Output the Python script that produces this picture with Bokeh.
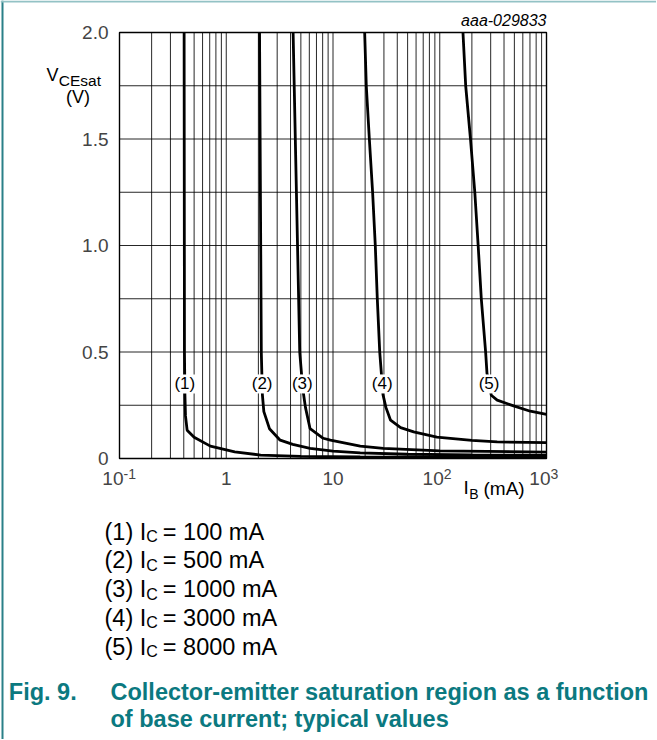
import numpy as np
from bokeh.plotting import figure
from bokeh.models import Label, Range1d
from bokeh.embed import file_html
from bokeh.resources import INLINE

# ---------------- data ----------------
# base current IB (mA) and collector-emitter saturation voltage VCEsat (V)
ib_1 = [0.403, 0.406, 0.41, 0.415, 0.43, 0.50, 0.71, 1.2, 2.1, 5, 18, 100, 1000]
v_1 = [2.0, 0.5, 0.3, 0.2, 0.133, 0.10, 0.058, 0.031, 0.016, 0.010, 0.007, 0.006, 0.005]

ib_2 = [2.05, 2.13, 2.18, 2.25, 2.54, 3.2, 4.2, 6.1, 10, 18, 50, 200, 1000]
v_2 = [2.0, 0.5, 0.3, 0.22, 0.14, 0.086, 0.066, 0.048, 0.035, 0.026, 0.020, 0.017, 0.015]

ib_3 = [4.23, 4.88, 5.2, 5.52, 6.1, 8.1, 9.45, 18, 29.6, 100, 1000]
v_3 = [2.0, 0.5, 0.33, 0.24, 0.14, 0.095, 0.086, 0.058, 0.048, 0.036, 0.030]

ib_4 = [19.8, 20.5, 21.9, 23.5, 24.9, 26.0, 27.4, 29.4, 31.3, 34.6, 43, 57, 94, 200, 345, 1000]
v_4 = [2.0, 1.75, 1.5, 1.25, 1.0, 0.75, 0.5, 0.3, 0.24, 0.18, 0.145, 0.125, 0.10, 0.085, 0.078, 0.075]

ib_5 = [165, 175, 194, 213, 229, 245, 269, 277, 304, 345, 492, 705, 1000]
v_5 = [2.0, 1.75, 1.5, 1.25, 1.0, 0.75, 0.5, 0.4, 0.297, 0.274, 0.247, 0.222, 0.207]

curve_ids = ["(1)", "(2)", "(3)", "(4)", "(5)"]
ic_values = ["100", "500", "1000", "3000", "8000"]
curve_label_v = 0.35

ytick_values = [0, 0.5, 1.0, 1.5, 2.0]
ytick_labels = ["0", "0.5", "1.0", "1.5", "2.0"]
ygrid_values = [0, 0.25, 0.5, 0.75, 1.0, 1.25, 1.5, 1.75, 2.0]
xtick_values = [0.1, 1, 10, 100, 1000]
xtick_bases = ["10", "1", "10", "10", "10"]
xtick_exps = ["-1", "", "", "2", "3"]
xgrid_values = [m * 10.0 ** e for e in range(-1, 3) for m in range(1, 10)] + [1000.0]

doc_id = "aaa-029833"
caption_num = "Fig. 9."
caption_lines = ["Collector-emitter saturation region as a function",
                 "of base current; typical values"]

# ---------------- style / layout ----------------
FONT = "Liberation Sans"
TEAL = "#0b7980"
W, H = 656, 739
X_MIN, X_MAX, Y_MIN, Y_MAX = 0.1, 1000.0, 0.0, 2.0
# chart box position in page pixels
F_L, F_T, F_R, F_B = 119, 32, 546, 458

LX0, LX1 = np.log10(X_MIN), np.log10(X_MAX)
PPD = (F_R - F_L) / (LX1 - LX0)          # pixels per decade
PPV = (F_B - F_T) / (Y_MAX - Y_MIN)      # pixels per volt
x_range = Range1d(10 ** (LX0 - F_L / PPD), 10 ** (LX1 + (W - F_R) / PPD))
y_range = Range1d(Y_MIN - (H - F_B) / PPV, Y_MAX + F_T / PPV)

AW = {"(": .333, ")": .333, " ": .278, "I": .278, "C": .722, "=": .584, "m": .833,
      "A": .667, "V": .667, "0": .556, "1": .556, "2": .556, "3": .556,
      "4": .556, "5": .556, "8": .556}


def tw(s, size):
    return sum(AW.get(c, .556) for c in s) * size


def dx(sx):
    return 10 ** (LX0 + (sx - F_L) / PPD)


def dy(sy):
    return Y_MIN + (F_B - sy) / PPV


p = figure(width=W, height=H, x_axis_type="log", x_range=x_range, y_range=y_range,
           output_backend="svg", toolbar_location=None,
           x_axis_location=None, y_axis_location=None, min_border=0)
p.title.visible = False
p.grid.visible = False
p.outline_line_color = None
p.background_fill_color = "white"
p.border_fill_color = "white"

# grid
p.segment(x0=xgrid_values, y0=[Y_MIN] * len(xgrid_values),
          x1=xgrid_values, y1=[Y_MAX] * len(xgrid_values),
          line_color="black", line_alpha=0.85, line_width=1)
p.segment(x0=[X_MIN] * len(ygrid_values), y0=ygrid_values,
          x1=[X_MAX] * len(ygrid_values), y1=ygrid_values,
          line_color="black", line_alpha=0.85, line_width=1)
# chart box
p.quad(left=[X_MIN], right=[X_MAX], bottom=[Y_MIN], top=[Y_MAX],
       fill_color=None, line_color="black", line_width=1.4)

# page border (document frame)
p.segment(x0=[dx(2)], y0=[dy(0)], x1=[dx(2)], y1=[dy(H)],
          line_color="#2a8088", line_width=2)
p.segment(x0=[dx(0)], y0=[dy(1)], x1=[dx(W)], y1=[dy(1)],
          line_color="#93c2c5", line_width=2)

curves = [(ib_1, v_1), (ib_2, v_2), (ib_3, v_3), (ib_4, v_4), (ib_5, v_5)]
for ib, v in curves:
    p.line(ib, v, line_color="black", line_width=2.8)


def put(text, sx, sy, size, align="left", color="black", style="normal"):
    """Place text with its visual centre line at page pixel row sy."""
    p.add_layout(Label(x=dx(sx), y=dy(sy), text=text, text_font=FONT,
                       text_font_size=f"{size}px", text_color=color,
                       text_align=align, text_baseline="middle",
                       text_font_style=style))


# curve labels, placed where each curve crosses curve_label_v
for (ib, v), cid in zip(curves, curve_ids):
    lv = np.log10(ib)[::-1]
    vv = np.array(v)[::-1]
    xlab = 10 ** np.interp(curve_label_v, vv, lv)
    p.add_layout(Label(x=xlab, y=curve_label_v, text=cid, text_font=FONT,
                       text_font_size="17px", text_align="center",
                       text_baseline="middle", text_color="black",
                       background_fill_color="white",
                       background_fill_alpha=1.0))

# y tick labels
for val, txt in zip(ytick_values, ytick_labels):
    p.add_layout(Label(x=X_MIN, y=val, x_offset=-11, text=txt, text_font=FONT,
                       text_font_size="19px", text_align="right",
                       text_baseline="middle"))

# x tick labels (with superscript exponents)
for val, base, ex in zip(xtick_values, xtick_bases, xtick_exps):
    if ex:
        p.add_layout(Label(x=val, y=Y_MIN, x_offset=4, y_offset=-20, text=base,
                           text_font=FONT, text_font_size="19px",
                           text_align="right", text_baseline="middle"))
        p.add_layout(Label(x=val, y=Y_MIN, x_offset=4, y_offset=-15, text=ex,
                           text_font=FONT, text_font_size="14px",
                           text_align="left", text_baseline="middle"))
    else:
        p.add_layout(Label(x=val, y=Y_MIN, y_offset=-20, text=base,
                           text_font=FONT, text_font_size="19px",
                           text_align="center", text_baseline="middle"))

# axis titles
put("I", 463, 487, 19)
put("B", 463 + tw("I", 19) + 0.5, 493, 14)
put("(mA)", 483, 488, 19)

put("V", 46, 74, 18)
put("CEsat", 46 + tw("V", 18) + 0.3, 80, 15.5)
put("(V)", 77.5, 96, 18, align="center")

put(doc_id, F_R, 20, 16, align="right", style="italic")

# legend
LEG_SIZE, SUB_SIZE = 23.5, 16
for i, (cid, ic) in enumerate(zip(curve_ids, ic_values)):
    cy = 531 + i * 28.8
    x0 = 104
    head = f"{cid} I"
    put(head, x0, cy, LEG_SIZE)
    xc = x0 + tw(head, LEG_SIZE)
    put("C", xc, cy + 5, SUB_SIZE)
    put(f"= {ic} mA", xc + tw("C", SUB_SIZE) + 5, cy, LEG_SIZE)

# caption
put(caption_num, 8.3, 691, 23.5, color=TEAL, style="bold")
put(caption_lines[0], 110, 691, 23.5, color=TEAL, style="bold")
put(caption_lines[1], 110, 718, 23.5, color=TEAL, style="bold")

open("out.html", "w").write(file_html(p, INLINE))
